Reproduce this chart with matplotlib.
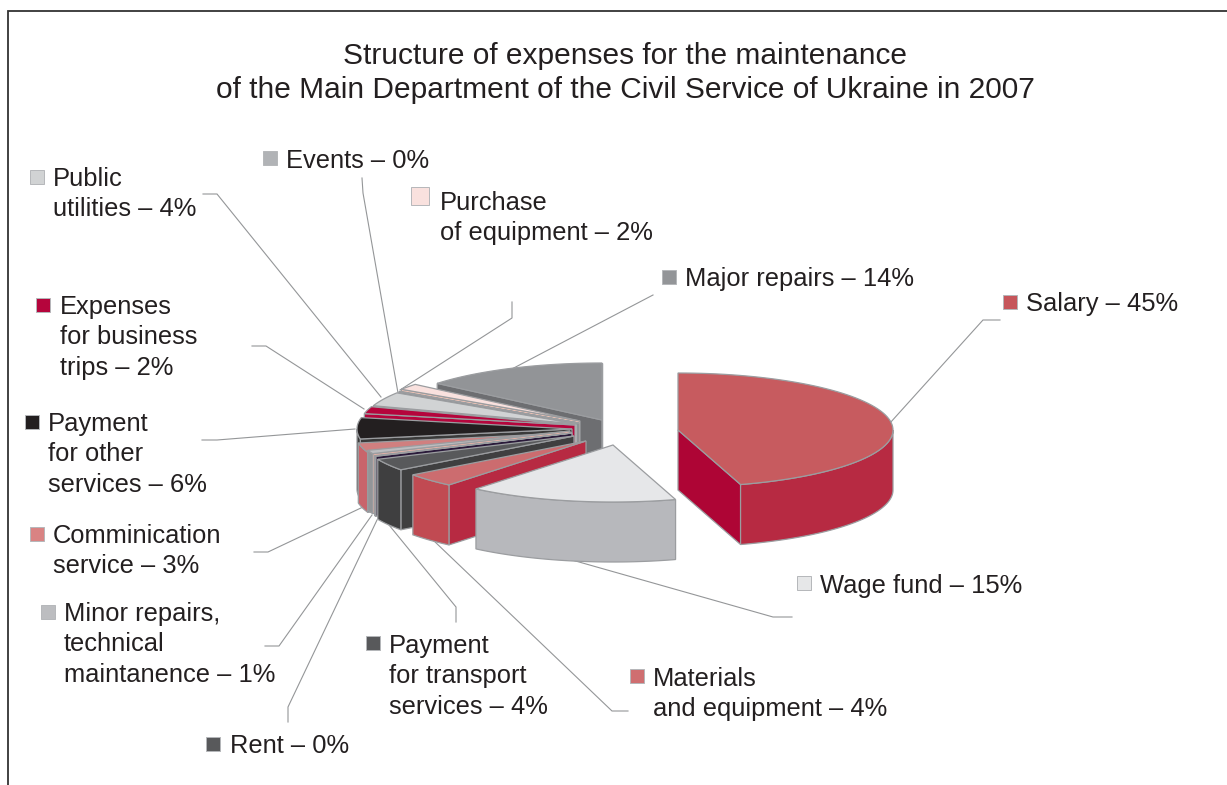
import numpy as np
import matplotlib
matplotlib.use("Agg")
import matplotlib.pyplot as plt
from matplotlib.patches import Polygon, Rectangle

# ---------- DATA ----------
categories = ["Salary", "Wage fund", "Materials and equipment", "Payment for transport services",
              "Rent", "Minor repairs", "Communication", "Other services", "Business trips",
              "Public utilities", "Events", "Purchase of equipment", "Major repairs"]
# slice sizes, printed labels round them
values = [45.3, 15.7, 3.9, 3.4, 0.2, 1, 2.7, 6, 2, 4, 0.2, 1.7, 13.9]

title_lines = ["Structure of expenses for the maintenance",
               "of the Main Department of the Civil Service of Ukraine in 2007"]
label_lines = [
    ["Salary – 45%"],
    ["Wage fund – 15%"],
    ["Materials", "and equipment – 4%"],
    ["Payment", "for transport", "services – 4%"],
    ["Rent – 0%"],
    ["Minor repairs,", "technical", "maintanence – 1%"],
    ["Comminication", "service – 3%"],
    ["Payment", "for other", "services – 6%"],
    ["Expenses", "for business", "trips – 2%"],
    ["Public", "utilities – 4%"],
    ["Events – 0%"],
    ["Purchase", "of equipment – 2%"],
    ["Major repairs – 14%"],
]

# ---------- STYLE ----------
top_colors = ["#c75b5f", "#e6e7e9", "#cc6c6f", "#58595b", "#2a1a3a", "#bcbdc0", "#d07f7f",
              "#231f20", "#b5053c", "#d1d3d4", "#808285", "#f9e1de", "#929497"]
wall_colors = ["#b72a42", "#b7b8bc", "#c14a52", "#3f3f40", "#2a1a3a", "#939598", "#c9646b",
               "#3a3a3a", "#b5053c", "#c4c6c8", "#808285", "#f7c8b9", "#6d6e71"]
side_colors = ["#ae0535", "#b7b8bc", "#b72a42", "#3f3f40", "#2a1a3a", "#e6b3a8", "#1c4c7c",
               "#3a3a3a", "#b5053c", "#c4c6c8", "#808285", "#f7c8b9", "#6d6e71"]
swatch_colors = ["#c6565b", "#e6e7e8", "#cf6e70", "#58595b", "#58595b", "#bcbdc0", "#d98383",
                 "#231f20", "#b5053c", "#d1d3d4", "#b1b3b6", "#f9e1de", "#939598"]

# tip of each pulled out slice, in pixels
tips = [(678, 430), (613, 445), (586, 441), (574, 436), (572, 433), (570, 431), (570, 433),
        (572, 429), (575, 425), (577, 424), (579, 423), (580, 421), (602, 420)]
RX, RY, DEPTH = 215, 57, 60
EDGE = "#9b9da0"

text_x = [1026, 820, 653, 389, 230, 64, 53, 48, 60, 53, 286, 440, 685]
text_y = [311, 593, 686, 653, 753, 621, 543, 431, 314, 186, 168, 210, 286]
swatch_xy = [(1003, 295), (797, 576), (630, 669), (366, 636), (206, 737), (41, 605), (30, 527),
             (25, 415), (36, 298), (30, 170), (263, 151), (411, 187), (662, 270)]
swatch_size = [14, 14, 14, 14, 14, 14, 14, 14, 14, 14, 14, 18, 14]
LINE_STEP = 30.3

leaders = [
    [(1000, 320), (983, 320), (890, 423)],
    [(792, 617), (773, 617), (572, 560)],
    [(628, 711), (612, 711), (433, 540)],
    [(456, 622), (456, 607), (389, 525)],
    [(288, 722), (288, 707), (377, 520)],
    [(265, 646), (279, 646), (372, 515)],
    [(254, 552), (268, 552), (363, 507)],
    [(202, 440), (217, 440), (355, 429)],
    [(252, 346), (266, 346), (364, 409)],
    [(203, 194), (217, 194), (381, 397)],
    [(362, 178), (363, 193), (398, 393)],
    [(512, 302), (512, 318), (400, 390)],
    [(653, 295), (508, 371)],
]

plt.rcParams["font.family"] = ["Liberation Sans", "DejaVu Sans"]
fig = plt.figure(figsize=(12.27, 7.85), dpi=100)
ax = fig.add_axes([0, 0, 1, 1])
ax.set_xlim(0, 1227)
ax.set_ylim(785, 0)
ax.axis("off")


def rim(tip, angles):
    rad = np.radians(angles)
    return np.column_stack([tip[0] + RX * np.sin(rad), tip[1] - RY * np.cos(rad)])


def draw_slice(tip, a0, a1, top, wall, side, z):
    down = np.array([0, DEPTH])
    t = np.array(tip, dtype=float)
    arc = rim(t, np.linspace(a0, a1, 80))
    # cut faces that look towards the viewer
    for ang, show in ((a0, np.sin(np.radians(a0)) < 0), (a1, np.sin(np.radians(a1)) > 0)):
        if show:
            p = rim(t, [ang])[0]
            ax.add_patch(Polygon([t, p, p + down, t + down], fc=side, ec=EDGE, lw=0.9, zorder=z))
    # outer wall, front half only
    lo, hi = max(a0, 90), min(a1, 270)
    if hi > lo:
        w = rim(t, np.linspace(lo, hi, 60))
        ax.add_patch(Polygon(np.vstack([w, (w + down)[::-1]]), fc=wall, ec=EDGE, lw=0.9, zorder=z))
    ax.add_patch(Polygon(np.vstack([t, arc]), fc=top, ec=EDGE, lw=0.9, zorder=z))


# ---------- PIE ----------
edges = np.concatenate([[0], np.cumsum(values)]) / sum(values) * 360
for i in reversed(range(len(values))):
    draw_slice(tips[i], edges[i], edges[i + 1], top_colors[i], wall_colors[i], side_colors[i], 3 + (12 - i) * 0.01)

# ---------- LABELS ----------
for pts in leaders:
    xs, ys = zip(*pts)
    ax.plot(xs, ys, color="#949698", lw=0.8, zorder=2, solid_joinstyle="miter")

for i, lines in enumerate(label_lines):
    for k, line in enumerate(lines):
        ax.text(text_x[i], text_y[i] + k * LINE_STEP, line, fontsize=18.35, color="#231f20",
                ha="left", va="baseline")
    ax.add_patch(Rectangle(swatch_xy[i], swatch_size[i], swatch_size[i], fc=swatch_colors[i],
                           ec="#b5b7ba", lw=0.7, zorder=4))

ax.text(625, 64, title_lines[0], fontsize=21.55, color="#231f20", ha="center", va="baseline")
ax.text(625, 98.5, title_lines[1], fontsize=21.55, color="#231f20", ha="center", va="baseline")

# frame, open on the right and at the bottom
ax.plot([7.5, 7.5, 1227], [785, 11, 11], color="#333333", lw=1.3, clip_on=False, solid_joinstyle="miter")

fig.savefig("out.png", dpi=100)
plt.close(fig)
